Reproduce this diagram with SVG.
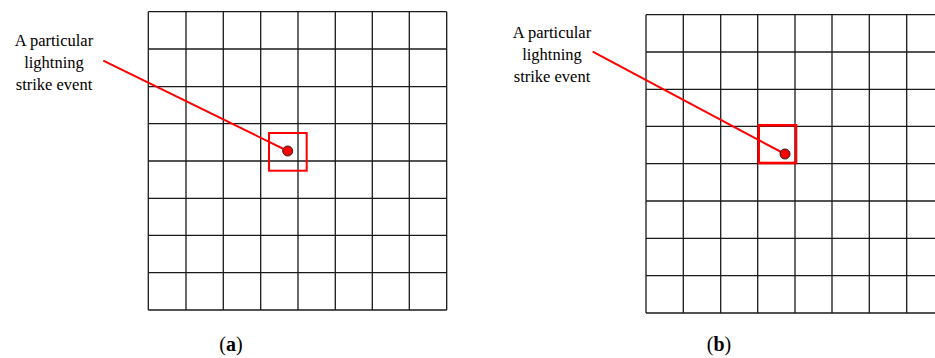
<svg xmlns="http://www.w3.org/2000/svg" width="935" height="358" viewBox="0 0 935 358">
<defs>
<style>
.grid line{stroke:#1a1a1a;stroke-width:1.3;}
.lbl{font-family:"Liberation Serif","Times New Roman",serif;font-size:16.5px;fill:#000;text-anchor:middle;}
.cap{font-family:"Liberation Serif","Times New Roman",serif;font-size:20px;fill:#000;text-anchor:middle;}
.lead{stroke:#ff0000;stroke-width:2;fill:none;}
.dot{fill:#ff0000;stroke:#222;stroke-width:1;}
</style>
</defs>
<rect width="935" height="358" fill="#fff"/>
<g id="gridA" class="grid">
<line x1="148.3" y1="11.7" x2="148.3" y2="310"/>
<line x1="186" y1="11.7" x2="186" y2="310"/>
<line x1="223.3" y1="11.7" x2="223.3" y2="310"/>
<line x1="260.7" y1="11.7" x2="260.7" y2="310"/>
<line x1="298" y1="11.7" x2="298" y2="310"/>
<line x1="335.3" y1="11.7" x2="335.3" y2="310"/>
<line x1="372.3" y1="11.7" x2="372.3" y2="310"/>
<line x1="409.3" y1="11.7" x2="409.3" y2="310"/>
<line x1="446.7" y1="11.7" x2="446.7" y2="310"/>
<line x1="148.3" y1="11.7" x2="446.7" y2="11.7"/>
<line x1="148.3" y1="49" x2="446.7" y2="49"/>
<line x1="148.3" y1="86.7" x2="446.7" y2="86.7"/>
<line x1="148.3" y1="123.7" x2="446.7" y2="123.7"/>
<line x1="148.3" y1="161" x2="446.7" y2="161"/>
<line x1="148.3" y1="198.3" x2="446.7" y2="198.3"/>
<line x1="148.3" y1="235.3" x2="446.7" y2="235.3"/>
<line x1="148.3" y1="272.7" x2="446.7" y2="272.7"/>
<line x1="148.3" y1="310" x2="446.7" y2="310"/>
</g>
<g id="gridB" class="grid">
<line x1="646" y1="14.7" x2="646" y2="313"/>
<line x1="683.3" y1="14.7" x2="683.3" y2="313"/>
<line x1="720.7" y1="14.7" x2="720.7" y2="313"/>
<line x1="757.7" y1="14.7" x2="757.7" y2="313"/>
<line x1="795" y1="14.7" x2="795" y2="313"/>
<line x1="832" y1="14.7" x2="832" y2="313"/>
<line x1="869.3" y1="14.7" x2="869.3" y2="313"/>
<line x1="906.7" y1="14.7" x2="906.7" y2="313"/>
<line x1="944" y1="14.7" x2="944" y2="313"/>
<line x1="646" y1="14.7" x2="944" y2="14.7"/>
<line x1="646" y1="52" x2="944" y2="52"/>
<line x1="646" y1="89.3" x2="944" y2="89.3"/>
<line x1="646" y1="126.3" x2="944" y2="126.3"/>
<line x1="646" y1="163.7" x2="944" y2="163.7"/>
<line x1="646" y1="201" x2="944" y2="201"/>
<line x1="646" y1="238.3" x2="944" y2="238.3"/>
<line x1="646" y1="275.7" x2="944" y2="275.7"/>
<line x1="646" y1="313" x2="944" y2="313"/>
</g>
<g id="connectors">
<line class="lead" x1="103.3" y1="60.7" x2="287.7" y2="151"/>
<line class="lead" x1="592.7" y1="51.7" x2="785" y2="154"/>
</g>
<g id="cellA">
<rect x="269" y="133" width="37.7" height="37.7" fill="none" stroke="#ff0000" stroke-width="2"/>
<circle class="dot" cx="287.7" cy="151" r="5"/>
</g>
<g id="cellB">
<rect x="758.7" y="125.3" width="37.3" height="37.7" fill="none" stroke="#ff0000" stroke-width="2.6"/>
<circle class="dot" cx="785" cy="154" r="5"/>
</g>
<g id="labelA">
<text class="lbl" x="54" y="46">A particular</text>
<text class="lbl" x="54" y="68">lightning</text>
<text class="lbl" x="54" y="90">strike event</text>
</g>
<g id="labelB">
<text class="lbl" x="552" y="38">A particular</text>
<text class="lbl" x="552" y="60">lightning</text>
<text class="lbl" x="552" y="82">strike event</text>
</g>
<text class="cap" x="231" y="351">(<tspan font-weight="bold">a</tspan>)</text>
<text class="cap" x="719" y="351">(<tspan font-weight="bold">b</tspan>)</text>
</svg>
